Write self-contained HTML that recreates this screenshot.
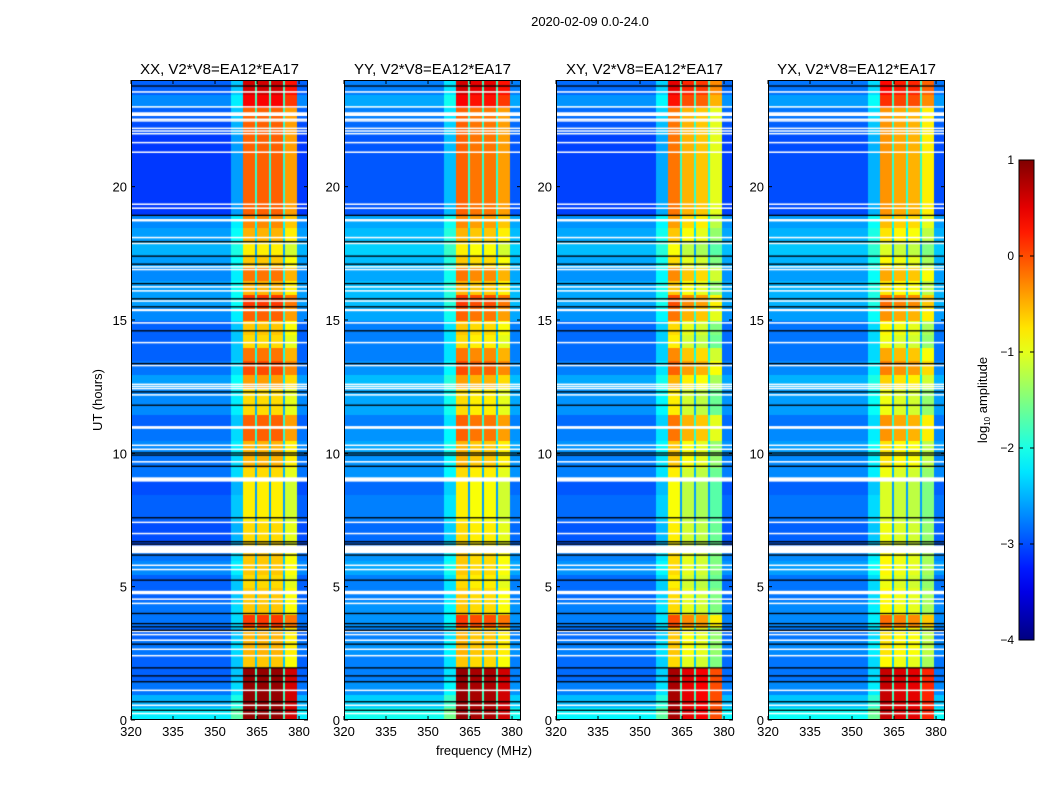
<!DOCTYPE html>
<html><head><meta charset="utf-8">
<style>
html,body{margin:0;padding:0;background:#fff;}
#wrap{position:relative;width:1050px;height:800px;overflow:hidden;font-family:"Liberation Sans",sans-serif;}
canvas{position:absolute;}
svg{position:absolute;left:0;top:0;}
</style></head>
<body>
<div id="wrap">
<svg id="ov" width="1050" height="800"></svg>
</div>
<script>
// ---- data (hours 0 -> 24, 0.5 hr steps) ----
const bandLevel = [0.9,0.9,0.9,0.9, -0.6,-0.5,-0.5,0.1, -0.6,-0.6,-0.7,-0.6, -0.6,-0.7,-0.7,-0.8,
  -0.8,-0.8,-0.7,-0.5, -0.5,-0.1,-0.1,-0.7, -0.7,-0.4,0.0,-0.2, -0.7,-0.6,-0.1,0.1,
  -0.5,-0.2,-0.6,-0.8, -0.5,-0.3,-0.1,-0.1, -0.1,-0.1,-0.1,-0.1, -0.1,-0.1,0.4,0.6];
const bgLevel = [-2.2,-2.5,-2.8,-2.9, -2.9,-2.8,-2.9,-2.8, -2.8,-2.9,-2.9,-2.7, -2.8,-3.0,-3.0,-2.9,
  -2.9,-3.0,-2.8,-2.8, -2.7,-2.8,-2.9,-2.7, -2.7,-2.6,-2.8,-2.9, -2.9,-2.9,-2.7,-2.6,
  -2.6,-2.7,-2.6,-2.5, -2.6,-2.7,-3.1,-3.1, -3.1,-3.1,-3.1,-3.1, -3.0,-2.9,-2.7,-2.9];
// frequency segments: [startMHz, endMHz, kind, subbandIndex]
const freqSegments = [[320,356,'bg',0],[356,360,'edge',0],[360,364.6,'band',0],[364.6,365.2,'gap',0],
  [365.2,369.6,'band',1],[369.6,370.2,'gap',0],[370.2,374.6,'band',2],[374.6,375.2,'gap',0],
  [375.2,379.5,'band',3],[379.5,383.3,'bg',0]];
const panelTitles = ['XX, V2*V8=EA12*EA17','YY, V2*V8=EA12*EA17','XY, V2*V8=EA12*EA17','YX, V2*V8=EA12*EA17'];
const panelBandOffset = [0, 0.0, -0.1, -0.15];
const panelBgOffset = [0, 0.15, 0.05, 0.1];
const subbandOffsets = [[0,0,0,-0.3],[0,-0.1,-0.1,-0.3],[0,-0.3,-0.4,-0.8],[-0.1,-0.2,-0.25,-0.55]];
const whiteFlags = [23.56,23.0,22.72,22.54,22.48,22.2,22.1,22.0,21.66,21.3,19.35,19.2,18.74,18.1,17.88,17.0,16.9,16.25,16.1,15.72,15.37,14.9,14.16,13.3,12.6,12.52,12.44,12.2,
  10.97,10.31,10.16,9.69,9.02,7.42,7.0,6.4,5.81,5.65,4.78,4.54,4.38,3.33,3.21,3.0,2.66,2.42,1.12,0.56,0.25];
const whiteWidth = [0.04,0.04,0.14,0.03,0.03,0.03,0.03,0.03,0.04,0.04,0.04,0.04,0.09,0.04,0.04,0.04,0.04,0.04,0.04,0.04,0.08,0.04,0.04,0.04,0.03,0.03,0.03,0.04,
  0.1,0.04,0.04,0.04,0.16,0.04,0.04,0.29,0.04,0.04,0.13,0.04,0.04,0.04,0.04,0.04,0.04,0.04,0.04,0.04,0.04];
const blackFlags = [23.78,18.93,17.94,17.4,17.1,16.37,15.8,15.5,14.6,13.37,12.31,11.81,10.02,9.94,9.52,7.59,6.69,6.6,6.19,5.25,4.0,3.62,3.5,3.37,2.85,1.96,1.66,1.44,0.69,0.37];
const yTicks = [0,5,10,15,20];
const xTicks = [320,335,350,365,380];
const cbTicks = [1,0,-1,-2,-3,-4];

const VMIN=-4, VMAX=1, TMAX=24, FMIN=320, FMAX=383.2;
const panelX=[131,344,556,768], PW=177, PT=80, PH=640;
function yScale(h){return PT+PH*(1-h/TMAX);}
function xScale(p,f){return panelX[p]+(f-FMIN)/(FMAX-FMIN)*PW;}
function jet(v){
  let t=Math.max(0,Math.min(1,(v-VMIN)/(VMAX-VMIN)));
  function c(x){return Math.max(0,Math.min(1,x));}
  const r=c(1.5-Math.abs(4*t-3)), g=c(1.5-Math.abs(4*t-2)), b=c(1.5-Math.abs(4*t-1));
  return 'rgb('+Math.round(r*255)+','+Math.round(g*255)+','+Math.round(b*255)+')';
}
const wrap=document.getElementById('wrap');
const ov=document.getElementById('ov');
const NS='http://www.w3.org/2000/svg';
function el(tag,attrs,parent){const e=document.createElementNS(NS,tag);for(const k in attrs)e.setAttribute(k,attrs[k]);(parent||ov).appendChild(e);return e;}
function txt(x,y,s,size,anchor,parent){const t=el('text',{x:x,y:y,'font-size':size,'text-anchor':anchor||'middle','font-family':'Liberation Sans, sans-serif',fill:'#000'},parent);t.textContent=s;return t;}

for(let p=0;p<4;p++){
  const cv=document.createElement('canvas');
  cv.width=PW;cv.height=PH;cv.style.left=panelX[p]+'px';cv.style.top=PT+'px';
  
  
  wrap.insertBefore(cv,ov);
  const ctx=cv.getContext('2d');
  for(let i=0;i<bandLevel.length;i++){
    const h0=i*0.5,h1=h0+0.5;
    const y0=yScale(h1)-PT,y1=yScale(h0)-PT;
    freqSegments.forEach(s=>{
      let v;
      const bg=bgLevel[i]+panelBgOffset[p];
      if(s[2]==='bg')v=bg;
      else if(s[2]==='edge')v=bg+0.5;
      else if(s[2]==='gap')v=Math.min(bandLevel[i],0)-1.8;
      else v=bandLevel[i]+panelBandOffset[p]+subbandOffsets[p][s[3]];
      ctx.fillStyle=jet(v);
      const x0=xScale(p,s[0])-panelX[p],x1=xScale(p,s[1])-panelX[p];
      ctx.fillRect(Math.floor(x0),Math.floor(y0),Math.ceil(x1-x0)+1,Math.ceil(y1-y0)+1);
    });
  }
  ctx.fillStyle='#fff';
  whiteFlags.forEach((h,k)=>{const w=whiteWidth[k];const ya=yScale(h+w/2)-PT,yb=yScale(h-w/2)-PT;ctx.fillRect(0,ya,PW,Math.max(1.5,yb-ya));});
  ctx.fillStyle='#000';
  blackFlags.forEach(h=>{ctx.fillRect(0,yScale(h)-PT-0.5,PW,1.3);});

  const g=el('g',{});
  
  
  el('rect',{x:panelX[p]+0.5,y:PT+0.5,width:PW-1,height:PH-1,fill:'none',stroke:'#000','stroke-width':1},g);
  yTicks.forEach(t=>{const y=yScale(t);
    el('line',{x1:panelX[p],x2:panelX[p]+4,y1:y,y2:y,stroke:'#000'},g);
    el('line',{x1:panelX[p]+PW-4,x2:panelX[p]+PW,y1:y,y2:y,stroke:'#000'},g);
    const lt=txt(panelX[p]-4,y+5,String(t),13,'end',g);
    
    
  });
  xTicks.forEach(t=>{const x=xScale(p,t);
    el('line',{x1:x,x2:x,y1:PT+PH,y2:PT+PH-4,stroke:'#000'},g);
    el('line',{x1:x,x2:x,y1:PT,y2:PT+4,stroke:'#000'},g);
    const lt=txt(x,PT+PH+16,String(t),13,'middle',g);
    
    
  });
  const tt=txt(panelX[p]+PW/2,74,panelTitles[p],15,'middle',g);
  
  
}
const st=txt(590,26,'2020-02-09 0.0-24.0',13,'middle');


const xl=txt(484,755,'frequency (MHz)',13,'middle');


const yl=txt(0,0,'UT (hours)',13,'middle');
yl.setAttribute('transform','translate(102,400) rotate(-90)');


const CBX=1019,CBW=15,CBT=160,CBH=480;
const cbg=el('g',{});


const defs=el('defs',{},cbg);
const lg=el('linearGradient',{id:'jetg',x1:0,y1:1,x2:0,y2:0},defs);
for(let k=0;k<=20;k++){el('stop',{offset:k/20,'stop-color':jet(VMIN+(VMAX-VMIN)*k/20)},lg);}
el('rect',{x:CBX,y:CBT,width:CBW,height:CBH,fill:'url(#jetg)',stroke:'#000','stroke-width':1},cbg);
cbTicks.forEach(t=>{const y=CBT+CBH*(VMAX-t)/(VMAX-VMIN);
  el('line',{x1:CBX,x2:CBX+4,y1:y,y2:y,stroke:'#000'},cbg);
  el('line',{x1:CBX+CBW-4,x2:CBX+CBW,y1:y,y2:y,stroke:'#000'},cbg);
  const lt=txt(CBX-5,y+4,(t<0?'\u2212'+(-t):String(t)),12,'end',cbg);
  
  
});
const cl=el('text',{'font-size':13,'text-anchor':'middle','font-family':'Liberation Sans, sans-serif',transform:'translate(987,400) rotate(-90)'});


cl.innerHTML='log<tspan font-size="8" dy="3">10</tspan><tspan dy="-3"> amplitude</tspan>';
</script>
</body></html>
